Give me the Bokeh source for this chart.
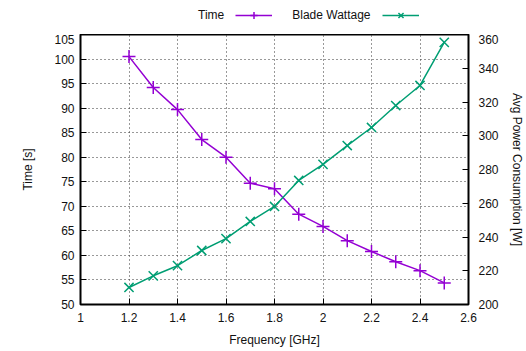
from bokeh.plotting import figure
from bokeh.layouts import column
from bokeh.models import (LinearAxis, Range1d, FixedTicker, CustomJSTickFormatter,
                          Legend, LegendItem, ColumnDataSource)
from bokeh.embed import file_html
from bokeh.resources import INLINE

freq = [1.2, 1.3, 1.4, 1.5, 1.6, 1.7, 1.8, 1.9, 2.0, 2.1, 2.2, 2.3, 2.4, 2.5]
time_s = [100.5, 94.2, 89.7, 83.6, 80.0, 74.7, 73.6, 68.4, 65.9, 63.0, 60.8, 58.7, 56.9, 54.4]
watt = [210.1, 217.0, 223.0, 232.0, 239.0, 249.2, 258.1, 273.5, 283.0, 294.2, 304.9, 317.9, 329.8, 355.3]

x_ticks = [1, 1.2, 1.4, 1.6, 1.8, 2, 2.2, 2.4, 2.6]
y_ticks = [50, 55, 60, 65, 70, 75, 80, 85, 90, 95, 100, 105]
y2_ticks = [200, 220, 240, 260, 280, 300, 320, 340, 360]
series_names = ["Time", "Blade Wattage"]

PURPLE = "#9400d3"
GREEN = "#009e73"
FONT = "Liberation Sans"
TXT = "#111111"

src = ColumnDataSource(dict(f=freq, t=time_s, w=watt))

# ---------- main chart ----------
p = figure(width=526, height=317, output_backend="svg", toolbar_location=None,
           x_range=Range1d(1, 2.6), y_range=Range1d(50, 105),
           min_border_left=80, min_border_right=54, min_border_top=0, min_border_bottom=47)
p.extra_y_ranges = {"w": Range1d(200, 360)}
p.outline_line_color = "black"
p.outline_line_width = 2
p.background_fill_color = "white"
p.border_fill_color = "white"

p.line("f", "t", source=src, color=PURPLE, line_width=1.5)
p.scatter("f", "t", source=src, marker="cross", size=13, color=PURPLE, line_width=1.5)
p.line("f", "w", source=src, color=GREEN, line_width=1.5, y_range_name="w")
p.scatter("f", "w", source=src, marker="x", size=13, color=GREEN, line_width=1.5, y_range_name="w")

fmt = CustomJSTickFormatter(code="return (Math.round(tick*10)/10).toString();")

def style_axis(ax):
    ax.axis_line_color = "black"
    ax.axis_line_width = 1
    ax.major_tick_in = 6
    ax.major_tick_out = 0
    ax.minor_tick_line_color = None
    ax.major_label_text_font = FONT
    ax.major_label_text_font_size = "12px"
    ax.major_label_text_color = TXT
    ax.axis_label_text_font = FONT
    ax.axis_label_text_font_size = "12px"
    ax.axis_label_text_font_style = "normal"
    ax.axis_label_text_color = TXT

xa = p.xaxis[0]
xa.ticker = FixedTicker(ticks=x_ticks)
xa.formatter = fmt
xa.axis_label = "Frequency [GHz]"
style_axis(xa)
xa.major_label_standoff = 8
xa.axis_label_standoff = 8

ya = p.yaxis[0]
ya.ticker = FixedTicker(ticks=y_ticks)
ya.axis_label = "Time [s]"
style_axis(ya)
ya.major_label_standoff = 6
ya.axis_label_standoff = 16

y2 = LinearAxis(y_range_name="w", ticker=FixedTicker(ticks=y2_ticks), axis_label="Avg Power Consumption [W]")
style_axis(y2)
y2.major_label_standoff = 10
y2.axis_label_standoff = 8
p.add_layout(y2, "right")

p.xgrid.ticker = FixedTicker(ticks=x_ticks)
p.ygrid.ticker = FixedTicker(ticks=y_ticks)
for g in (p.xgrid[0], p.ygrid[0]):
    g.grid_line_color = "#333333"
    g.grid_line_dash = "1 3"
    g.grid_line_width = 1

# ---------- key strip above the chart (gnuplot style: label, then sample) ----------
k = figure(width=526, height=34, output_backend="svg", toolbar_location=None,
           x_range=Range1d(0, 1), y_range=Range1d(0, 1),
           x_axis_type=None, y_axis_type=None,
           min_border_left=0, min_border_right=0, min_border_top=0, min_border_bottom=0)
k.outline_line_color = None
k.grid.visible = False
k.border_fill_color = "white"
k.background_fill_color = "white"
# series drawn outside this strip's ranges: only their legend samples show
kb = k.line("f", "t", source=src, line_alpha=0)
k1 = k.line("f", "t", source=src, color=PURPLE, line_width=1.5)
k1m = k.scatter("f", "t", source=src, marker="cross", size=13, color=PURPLE, line_width=1.5)
k2 = k.line("f", "w", source=src, color=GREEN, line_width=1.5)
k2m = k.scatter("f", "w", source=src, marker="x", size=13, color=GREEN, line_width=1.5)

legend = Legend(items=[LegendItem(label=series_names[0], renderers=[kb]),
                       LegendItem(label=series_names[1], renderers=[k1, k1m]),
                       LegendItem(label="\u00a0", renderers=[k2, k2m])],
                orientation="horizontal", location=(61, 10),
                label_text_font=FONT, label_text_font_size="12px", label_text_color=TXT,
                glyph_width=37, glyph_height=18, spacing=11, label_standoff=20,
                border_line_color=None, background_fill_alpha=0,
                padding=0, margin=0)
k.add_layout(legend, "center")

open("out.html", "w").write(file_html(column(k, p, spacing=0), INLINE))
